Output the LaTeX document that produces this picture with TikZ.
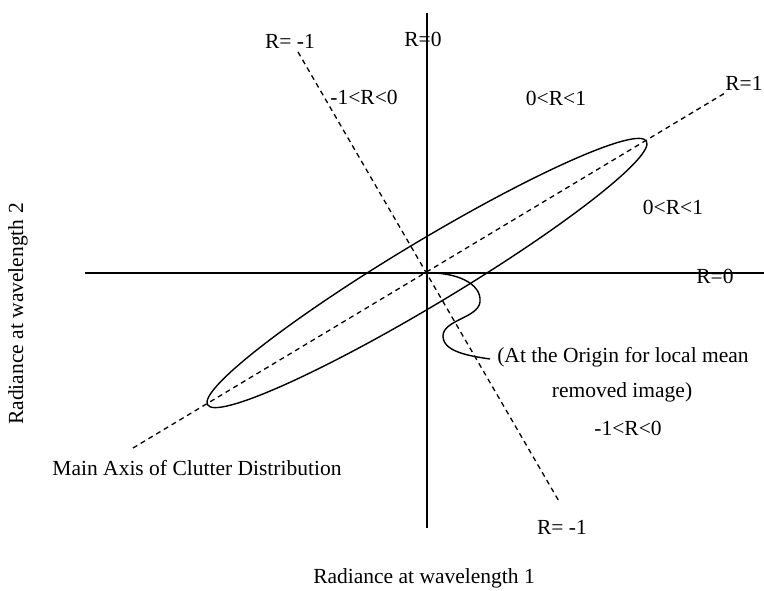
\documentclass[tikz,border=0pt]{standalone}
\usepackage{fontspec}
\setmainfont{Liberation Serif}
\begin{document}
\begin{tikzpicture}[x=1pt,y=-1pt,
  axisline/.style={line width=1.5pt},
  dashline/.style={line width=1.3pt, dash pattern=on 5pt off 4pt},
  lbl/.style={inner sep=0pt, font=\fontsize{21.5}{24}\selectfont}]
\useasboundingbox (0,0) rectangle (764,590);
\coordinate (O) at (427,273);
\coordinate (xl) at (85,273);
\coordinate (xr) at (764,273);
\coordinate (yt) at (427,13);
\coordinate (yb) at (427,528);
\coordinate (p1a) at (133,448);
\coordinate (p1b) at (725,93);
\coordinate (m1a) at (298,52);
\coordinate (m1b) at (560,503);
\coordinate (sq1) at (480,302);
\coordinate (sq2) at (443,336);
\coordinate (sqe) at (490,359);
% axes
\draw[axisline] (xl) -- (xr);
\draw[axisline] (yt) -- (yb);
% dashed lines
\draw[dashline] (p1a) -- (p1b);
\draw[dashline] (m1a) -- (m1b);
% ellipse
\draw[line width=1.4pt, rotate around={31:(O)}] (O) ellipse [x radius=256pt, y radius=31.5pt];
% squiggle
\draw[line width=1.4pt] (O) .. controls (455,272) and (482,283) .. (sq1)
  .. controls (478,318) and (443,320) .. (sq2)
  .. controls (443,352) and (470,356) .. (sqe);
% labels
\node[lbl] (lRm1t) at (290,41) {R= -1};
\node[lbl] (lr1) at (364,97) {-1<R<0};
\node[lbl] (lR0t) at (423,39) {R=0};
\node[lbl] (lr2) at (556,98) {0<R<1};
\node[lbl] (lR1) at (744,83) {R=1};
\node[lbl] (lr3) at (673,207) {0<R<1};
\node[lbl] (lR0r) at (715,276) {R=0};
\node[lbl] (lat1) at (623,357) {(At the Origin for local mean};
\node[lbl] (lat2) at (622,392) {removed image)};
\node[lbl] (lr4) at (628,428) {-1<R<0};
\node[lbl] (lRm1b) at (562,527) {R= -1};
\node[lbl] (lmain) at (197,468) {Main Axis of Clutter Distribution};
\node[lbl] (lx) at (424,578) {Radiance at wavelength 1};
\node[lbl, rotate=90] (ly) at (18,314) {Radiance at wavelength 2};
\end{tikzpicture}
\end{document}
